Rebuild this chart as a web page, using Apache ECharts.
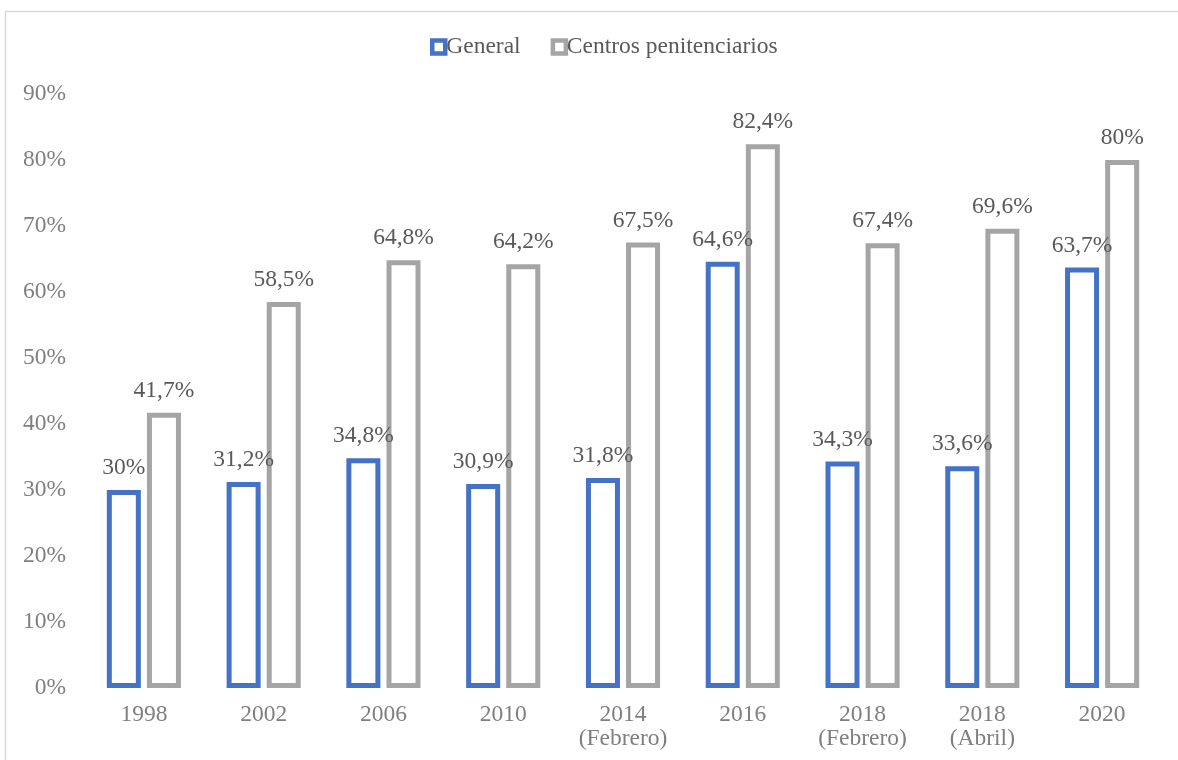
<!DOCTYPE html>
<html>
<head>
<meta charset="utf-8">
<script src="https://cdn.jsdelivr.net/npm/echarts@6/dist/echarts.min.js"></script>
<style>
  html, body { margin: 0; padding: 0; background: #fff; }
  #chart { width: 1178px; height: 760px; }
</style>
</head>
<body>
<div id="chart"></div>
<script>
// Survey years (some with month in parentheses)
const categories = ['1998', '2002', '2006', '2010', '2014\n(Febrero)', '2016', '2018\n(Febrero)', '2018\n(Abril)', '2020'];
// Percentages per group
const generalValues = [30, 31.2, 34.8, 30.9, 31.8, 64.6, 34.3, 33.6, 63.7];
const centrosValues = [41.7, 58.5, 64.8, 64.2, 67.5, 82.4, 67.4, 69.6, 80];
const seriesNames = ['General', 'Centros penitenciarios'];

const FONT = '"Liberation Serif", "Times New Roman", serif';
const fmtPct = v => String(v).replace('.', ',') + '%';

const chart = echarts.init(document.getElementById('chart'));

function barSeries(name, data, color) {
  return {
    name: name,
    type: 'bar',
    data: data,
    barWidth: 34,
    barGap: '18%',
    itemStyle: { color: '#ffffff', borderColor: color, borderWidth: 5 },
    label: {
      show: true,
      position: 'top',
      distance: 10,
      color: '#595959',
      fontFamily: FONT,
      fontSize: 23.5,
      formatter: p => fmtPct(p.value)
    },
    emphasis: { disabled: true }
  };
}

chart.setOption({
  animation: false,
  backgroundColor: '#ffffff',
  graphic: [{
    type: 'rect',
    shape: { x: 5.5, y: 11.5, width: 1200, height: 800 },
    style: { fill: 'none', stroke: '#d9d9d9', lineWidth: 1.5 },
    silent: true
  }],
  legend: {
    top: 30,
    left: 425,
    itemWidth: 13,
    itemHeight: 13,
    itemGap: 30,
    icon: 'rect',
    textStyle: { fontFamily: FONT, fontSize: 23.5, color: '#595959', padding: [0, 0, 0, -4] },
    data: [
      { name: seriesNames[0], itemStyle: { color: '#ffffff', borderColor: '#4472C4', borderWidth: 4.5 } },
      { name: seriesNames[1], itemStyle: { color: '#ffffff', borderColor: '#A5A5A5', borderWidth: 4.5 } }
    ]
  },
  grid: { left: 84, right: 16, top: 94, bottom: 72, containLabel: false },
  xAxis: {
    type: 'category',
    data: categories,
    axisLine: { show: false },
    axisTick: { show: false },
    axisLabel: {
      color: '#7f7f7f',
      fontFamily: FONT,
      fontSize: 23.5,
      lineHeight: 24,
      margin: 15
    }
  },
  yAxis: {
    type: 'value',
    min: 0,
    max: 90,
    interval: 10,
    splitLine: { show: false },
    axisLine: { show: false },
    axisTick: { show: false },
    axisLabel: {
      color: '#7f7f7f',
      fontFamily: FONT,
      fontSize: 23.5,
      margin: 18,
      formatter: v => v + '%'
    }
  },
  series: [
    barSeries(seriesNames[0], generalValues, '#4472C4'),
    barSeries(seriesNames[1], centrosValues, '#A5A5A5')
  ]
});
</script>
</body>
</html>
